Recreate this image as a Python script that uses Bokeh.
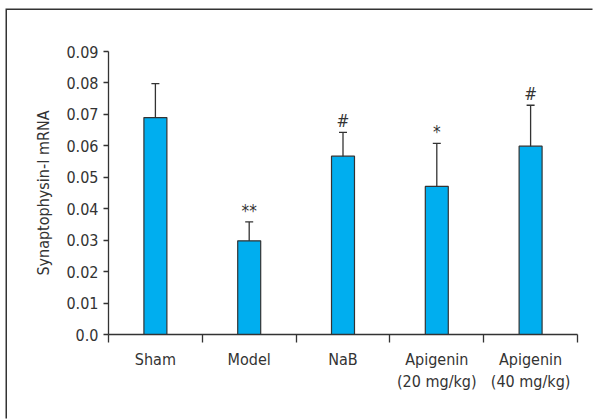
from bokeh.plotting import figure
from bokeh.models import (Range1d, FixedTicker, ColumnDataSource, Whisker,
                          TeeHead, LinearAxis)
from bokeh.core.properties import value
from bokeh.embed import file_html
from bokeh.resources import INLINE

groups = ["Sham", "Model", "NaB", "Apigenin\n(20 mg/kg)", "Apigenin\n(40 mg/kg)"]
means = [0.069, 0.0298, 0.0567, 0.0471, 0.0599]
errors = [0.0108, 0.006, 0.0076, 0.0137, 0.0130]
marks = ["", "**", "#", "*", "#"]
y_ticks = [0.0, 0.01, 0.02, 0.03, 0.04, 0.05, 0.06, 0.07, 0.08, 0.09]
y_labels = ["0.0", "0.01", "0.02", "0.03", "0.04", "0.05", "0.06", "0.07", "0.08", "0.09"]

FONT = "DejaVu Sans Condensed"
DARK = "#333333"

xs = [i + 0.5 for i in range(len(groups))]
src = ColumnDataSource(dict(
    x=xs, top=means,
    upper=[m + e for m, e in zip(means, errors)],
    lower=[m - e for m, e in zip(means, errors)],
    mark=marks,
))

p = figure(width=587, height=410, output_backend="svg", toolbar_location=None,
           x_range=Range1d(0, len(groups)), y_range=Range1d(0, 0.09),
           min_border_left=101, min_border_right=17, min_border_top=41,
           min_border_bottom=86, x_axis_type=None, y_axis_type=None,
           margin=(10, 0, 0, 7),
           styles={"box-shadow": "-1.5px -1.5px 0px 0px #333333"})
p.grid.visible = False
p.outline_line_color = None
p.background_fill_color = "white"
p.border_fill_color = "white"

p.vbar(x="x", top="top", width=0.245, bottom=0, source=src,
       fill_color="#00aeef", line_color=DARK, line_width=1.2)

p.add_layout(Whisker(source=src, base="x", upper="upper", lower="lower",
                     line_color=DARK, line_width=1.3,
                     upper_head=TeeHead(size=8, line_color=DARK, line_width=1.3),
                     lower_head=TeeHead(size=8, line_color=DARK, line_width=1.3)))

p.text(x="x", y="upper", text="mark", source=src, text_align="center",
       text_baseline="bottom", y_offset=-1, text_font=value(FONT),
       text_font_size="17px", text_color=DARK)

yax = LinearAxis(ticker=FixedTicker(ticks=y_ticks, minor_ticks=[]),
                 major_label_overrides={t: l for t, l in zip(y_ticks, y_labels)},
                 axis_label="Synaptophysin-I mRNA")
yax.axis_line_color = DARK
yax.axis_line_width = 1.3
yax.major_tick_line_color = DARK
yax.major_tick_line_width = 1.3
yax.major_tick_in = 0
yax.major_tick_out = 5
yax.minor_tick_line_color = None
yax.major_label_text_font = FONT
yax.major_label_text_font_size = "16px"
yax.major_label_text_color = DARK
yax.axis_label_text_font = FONT
yax.axis_label_text_font_size = "16px"
yax.axis_label_text_font_style = "normal"
yax.axis_label_text_color = DARK
yax.axis_label_standoff = 10
p.add_layout(yax, "left")

xax = LinearAxis(ticker=FixedTicker(ticks=xs, minor_ticks=list(range(len(groups) + 1))),
                 major_label_overrides={x: g for x, g in zip(xs, groups)})
xax.axis_line_color = DARK
xax.axis_line_width = 1.3
xax.major_tick_line_color = None
xax.major_tick_in = 0
xax.major_tick_out = 0
xax.minor_tick_line_color = DARK
xax.minor_tick_line_width = 1.3
xax.minor_tick_in = 0
xax.minor_tick_out = 8
xax.major_label_text_font = FONT
xax.major_label_text_font_size = "16px"
xax.major_label_text_color = DARK
xax.major_label_standoff = 7
p.add_layout(xax, "below")

open("out.html", "w").write(file_html(p, INLINE))
